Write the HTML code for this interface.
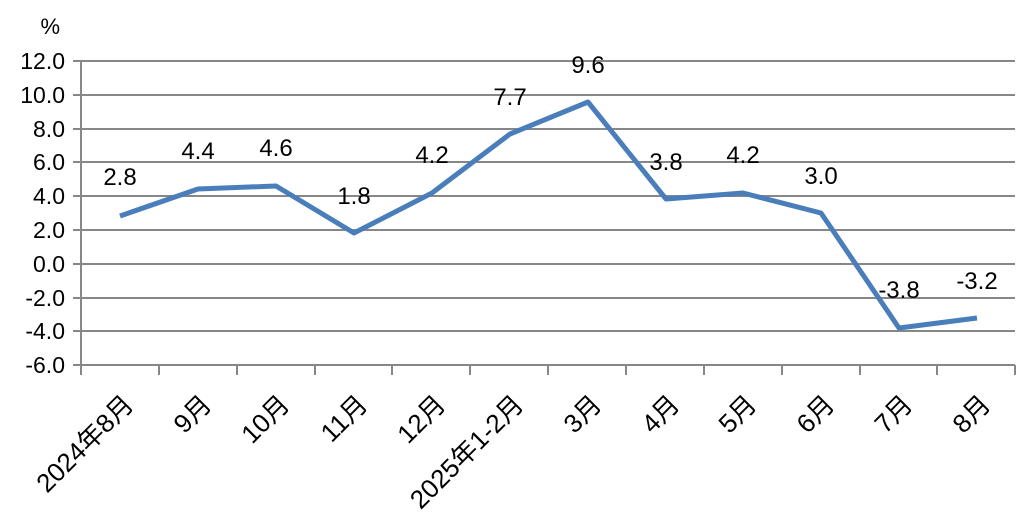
<!DOCTYPE html>
<html><head><meta charset="utf-8"><style>
html,body{margin:0;padding:0;background:#fff;}
svg{display:block;font-family:"Liberation Sans","Noto Sans CJK SC",sans-serif;}
</style></head><body>
<svg width="1030" height="522" viewBox="0 0 1030 522" xmlns="http://www.w3.org/2000/svg">
<g stroke="#878787" stroke-width="2">
<line x1="73" y1="61" x2="1015" y2="61"/>
<line x1="73" y1="95" x2="1015" y2="95"/>
<line x1="73" y1="129" x2="1015" y2="129"/>
<line x1="73" y1="162" x2="1015" y2="162"/>
<line x1="73" y1="196" x2="1015" y2="196"/>
<line x1="73" y1="230" x2="1015" y2="230"/>
<line x1="73" y1="264" x2="1015" y2="264"/>
<line x1="73" y1="298" x2="1015" y2="298"/>
<line x1="73" y1="331" x2="1015" y2="331"/>
<line x1="73" y1="365" x2="1015" y2="365"/>
<line x1="81" y1="61" x2="81" y2="375"/>
<line x1="159" y1="365" x2="159" y2="375"/>
<line x1="237" y1="365" x2="237" y2="375"/>
<line x1="315" y1="365" x2="315" y2="375"/>
<line x1="392" y1="365" x2="392" y2="375"/>
<line x1="470" y1="365" x2="470" y2="375"/>
<line x1="548" y1="365" x2="548" y2="375"/>
<line x1="626" y1="365" x2="626" y2="375"/>
<line x1="704" y1="365" x2="704" y2="375"/>
<line x1="782" y1="365" x2="782" y2="375"/>
<line x1="860" y1="365" x2="860" y2="375"/>
<line x1="937" y1="365" x2="937" y2="375"/>
<line x1="1015" y1="365" x2="1015" y2="375"/>
</g>
<g font-size="23" text-anchor="end" fill="#000">
<text x="60" y="34" font-size="22">%</text>
<text x="65" y="69">12.0</text>
<text x="65" y="103">10.0</text>
<text x="65" y="137">8.0</text>
<text x="65" y="170">6.0</text>
<text x="65" y="204">4.0</text>
<text x="65" y="238">2.0</text>
<text x="65" y="272">0.0</text>
<text x="65" y="306">-2.0</text>
<text x="65" y="339">-4.0</text>
<text x="65" y="373">-6.0</text>
</g>
<polyline fill="none" stroke="#4a7ebb" stroke-width="5" stroke-linejoin="round" points="120,216 198,189 276,186 354,233 432,193 510,134 588,102 666,199 743,193 821,213 899,328 977,318"/>
<g font-size="24" text-anchor="middle" fill="#000">
<text x="120" y="185">2.8</text>
<text x="198" y="159">4.4</text>
<text x="276" y="156">4.6</text>
<text x="354" y="204">1.8</text>
<text x="432" y="163">4.2</text>
<text x="510" y="105">7.7</text>
<text x="588" y="73">9.6</text>
<text x="666" y="170">3.8</text>
<text x="743" y="163">4.2</text>
<text x="821" y="184">3.0</text>
<text x="899" y="298">-3.8</text>
<text x="977" y="289">-3.2</text>
</g>
<g font-size="26" text-anchor="end" fill="#000">
<text transform="translate(135,406) rotate(-45)">2024年8月</text>
<text transform="translate(213,406) rotate(-45)">9月</text>
<text transform="translate(291,406) rotate(-45)">10月</text>
<text transform="translate(369,406) rotate(-45)">11月</text>
<text transform="translate(447,406) rotate(-45)">12月</text>
<text transform="translate(525,406) rotate(-45)">2025年1-2月</text>
<text transform="translate(603,406) rotate(-45)">3月</text>
<text transform="translate(681,406) rotate(-45)">4月</text>
<text transform="translate(758,406) rotate(-45)">5月</text>
<text transform="translate(836,406) rotate(-45)">6月</text>
<text transform="translate(914,406) rotate(-45)">7月</text>
<text transform="translate(992,406) rotate(-45)">8月</text>
</g>
</svg>
</body></html>
